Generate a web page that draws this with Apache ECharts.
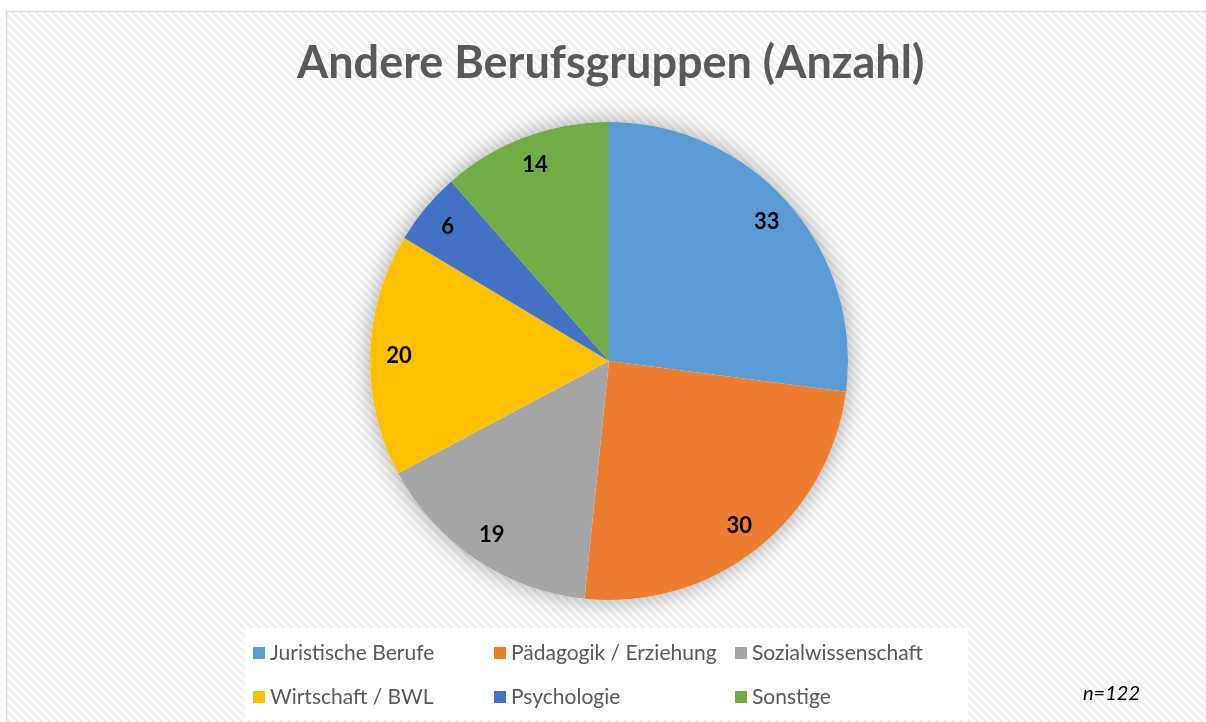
<!DOCTYPE html>
<html lang="de">
<head>
  <meta charset="UTF-8">
  <title>Andere Berufsgruppen</title>
  <script src="https://cdn.jsdelivr.net/npm/echarts@6/dist/echarts.min.js"></script>
  <style>
    html, body { margin: 0; padding: 0; background: #fff; }
    #main { width: 1206px; height: 722px; }
  </style>
</head>
<body>
  <div id="main"></div>
  <script>
    // Daten
    var categories = ['Juristische Berufe', 'Pädagogik / Erziehung', 'Sozialwissenschaft',
                      'Wirtschaft / BWL', 'Psychologie', 'Sonstige'];
    var counts = [33, 30, 19, 20, 6, 14];
    var colors = ['#5B9BD5', '#ED7D31', '#A5A5A5', '#FFC000', '#4472C4', '#70AD47'];
    var sampleNote = 'n=122';

    // Hintergrund-Schraffur
    var tile = document.createElement('canvas');
    tile.width = 8; tile.height = 8;
    var ctx = tile.getContext('2d');
    ctx.fillStyle = '#ffffff';
    ctx.fillRect(0, 0, 8, 8);
    ctx.strokeStyle = '#eeeeee';
    ctx.lineWidth = 2.5;
    ctx.beginPath();
    ctx.moveTo(-2, -2); ctx.lineTo(10, 10);
    ctx.moveTo(-10, -2); ctx.lineTo(2, 10);
    ctx.moveTo(6, -2); ctx.lineTo(18, 10);
    ctx.stroke();

    var pieData = categories.map(function (name, i) {
      return { name: name, value: counts[i], itemStyle: { color: colors[i] } };
    });
    var labelData = categories.map(function (name, i) {
      return { name: name, value: counts[i] };
    });

    var chart = echarts.init(document.getElementById('main'));
    var font = 'Lato, "Open Sans", sans-serif';

    var option = {
      animation: false,
      title: {
        text: 'Andere Berufsgruppen (Anzahl)',
        left: 292,
        top: 36,
        textStyle: { fontFamily: font, fontSize: 45, fontWeight: 'bold', color: '#595959' }
      },
      legend: {
        data: categories,
        left: 245,
        top: 628,
        width: 730,
        padding: [12, 10, 10, 8],
        backgroundColor: '#ffffff',
        icon: 'rect',
        itemWidth: 12,
        itemHeight: 12,
        itemGap: 18,
        formatter: '{t|{name}}',
        textStyle: {
          fontFamily: font, fontSize: 21, color: '#595959',
          rich: { t: { fontFamily: font, fontSize: 21, color: '#595959', width: 206, height: 26, lineHeight: 26 } }
        },
        selectedMode: false
      },
      graphic: [
        {
          type: 'rect', z: -10, silent: true,
          shape: { x: 6.5, y: 11.5, width: 1300, height: 800 },
          style: { fill: { image: tile, repeat: 'repeat' }, stroke: '#d9d9d9', lineWidth: 1.5 }
        },
        {
          type: 'text', left: 1083, top: 684, silent: true,
          style: { text: sampleNote, font: 'italic normal 20px ' + font, fill: '#000' }
        }
      ],
      series: [
        {
          // Schatten unter dem Kreis
          type: 'pie', silent: true, center: [609, 361], radius: [0, 239],
          label: { show: false }, labelLine: { show: false },
          data: [{ name: '_bg', value: 1, itemStyle: { color: '#ffffff', shadowBlur: 24, shadowColor: 'rgba(0,0,0,0.35)' } }]
        },
        {
          type: 'pie',
          center: [609, 361],
          radius: [0, 239],
          startAngle: 90,
          clockwise: true,
          label: { show: false },
          labelLine: { show: false },
          data: pieData
        },
        {
          // nur Beschriftungen
          type: 'pie', silent: true,
          center: [609, 361],
          radius: [0, 414],
          startAngle: 90,
          clockwise: true,
          itemStyle: { color: 'rgba(0,0,0,0)' },
          label: {
            show: true, position: 'inside',
            formatter: '{c}',
            fontFamily: font, fontSize: 22, fontWeight: 'bold', color: '#000'
          },
          labelLine: { show: false },
          data: labelData
        }
      ]
    };
    chart.setOption(option);
  </script>
</body>
</html>
